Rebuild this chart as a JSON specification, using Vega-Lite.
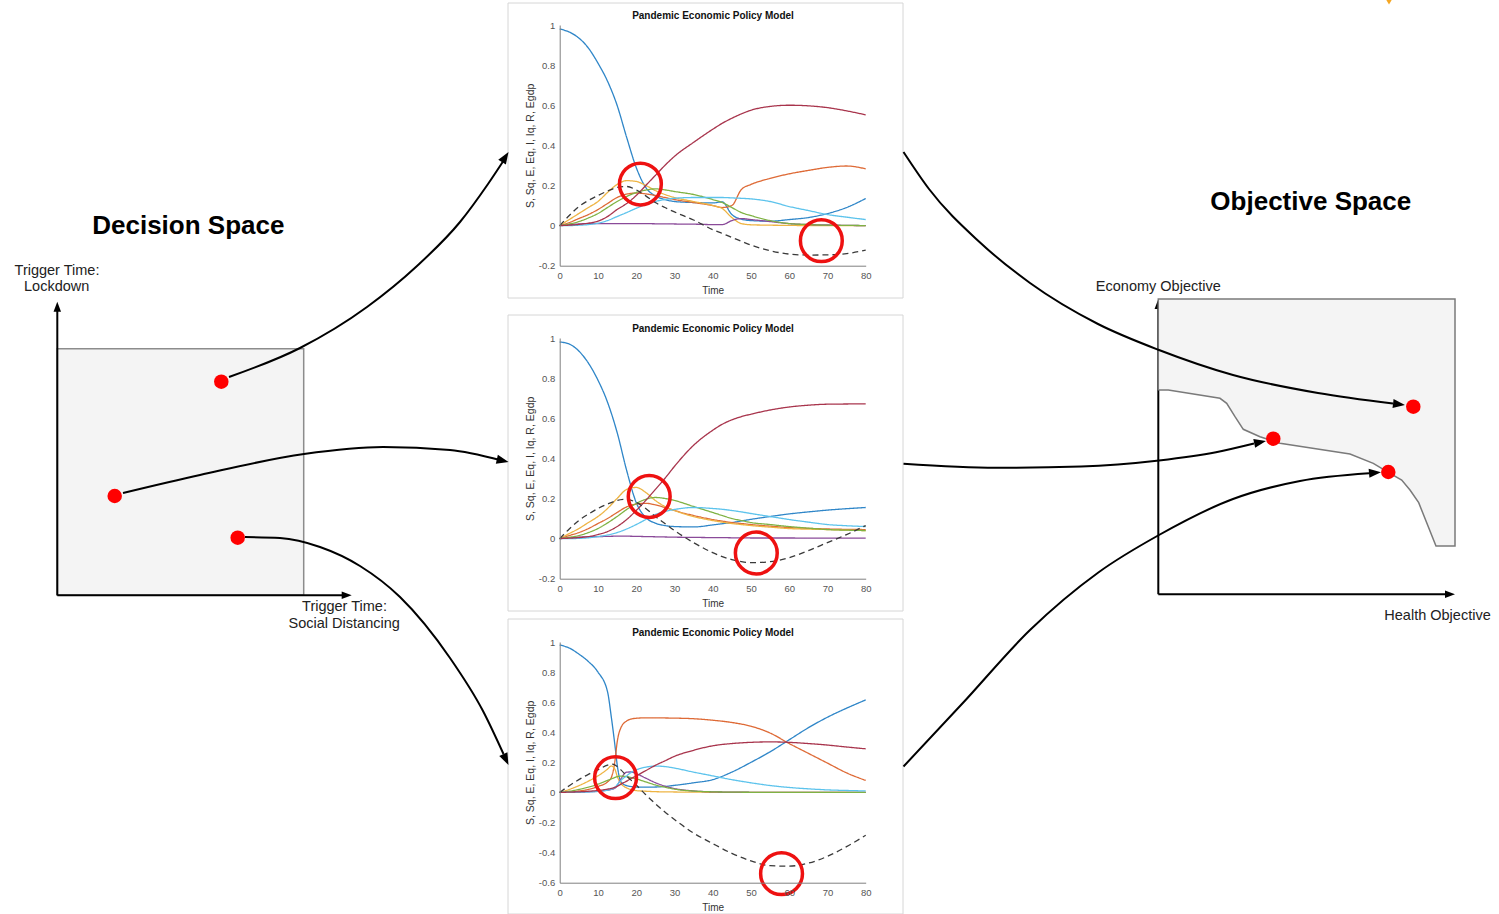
{
  "$schema": "https://vega.github.io/schema/vega-lite/v6.json",
  "width": 1499,
  "height": 914,
  "autosize": {"type": "none"},
  "padding": 0,
  "background": "white",
  "config": {"view": {"stroke": null}, "font": "Liberation Sans"},
  "datasets": {
    "c1": [
      {"t": 0, "S": 0.98, "Sq": 0, "E": 0, "Eq": 0, "I": 0, "Iq": 0, "R": 0, "Egdp": 0},
      {"t": 2.5, "S": 0.965, "Sq": 0.015, "E": 0.03, "Eq": 0.005, "I": 0.008, "Iq": 0, "R": 0.002, "Egdp": 0.05},
      {"t": 5, "S": 0.935, "Sq": 0.035, "E": 0.06, "Eq": 0.008, "I": 0.02, "Iq": 0.002, "R": 0.006, "Egdp": 0.095},
      {"t": 7.5, "S": 0.885, "Sq": 0.055, "E": 0.09, "Eq": 0.01, "I": 0.038, "Iq": 0.005, "R": 0.012, "Egdp": 0.125},
      {"t": 10, "S": 0.81, "Sq": 0.08, "E": 0.12, "Eq": 0.01, "I": 0.06, "Iq": 0.012, "R": 0.022, "Egdp": 0.15},
      {"t": 12.5, "S": 0.72, "Sq": 0.11, "E": 0.165, "Eq": 0.01, "I": 0.09, "Iq": 0.025, "R": 0.045, "Egdp": 0.172},
      {"t": 15, "S": 0.6, "Sq": 0.14, "E": 0.205, "Eq": 0.01, "I": 0.12, "Iq": 0.045, "R": 0.08, "Egdp": 0.19},
      {"t": 17.5, "S": 0.44, "Sq": 0.157, "E": 0.224, "Eq": 0.01, "I": 0.145, "Iq": 0.065, "R": 0.11, "Egdp": 0.195},
      {"t": 20, "S": 0.29, "Sq": 0.162, "E": 0.22, "Eq": 0.01, "I": 0.165, "Iq": 0.086, "R": 0.15, "Egdp": 0.178},
      {"t": 22.5, "S": 0.19, "Sq": 0.158, "E": 0.2, "Eq": 0.01, "I": 0.177, "Iq": 0.105, "R": 0.2, "Egdp": 0.148},
      {"t": 25, "S": 0.148, "Sq": 0.15, "E": 0.175, "Eq": 0.009, "I": 0.183, "Iq": 0.12, "R": 0.25, "Egdp": 0.115},
      {"t": 27.5, "S": 0.13, "Sq": 0.14, "E": 0.155, "Eq": 0.009, "I": 0.178, "Iq": 0.13, "R": 0.3, "Egdp": 0.09},
      {"t": 30, "S": 0.12, "Sq": 0.13, "E": 0.14, "Eq": 0.008, "I": 0.17, "Iq": 0.136, "R": 0.345, "Egdp": 0.068},
      {"t": 35, "S": 0.115, "Sq": 0.115, "E": 0.12, "Eq": 0.007, "I": 0.155, "Iq": 0.14, "R": 0.415, "Egdp": 0.028},
      {"t": 40, "S": 0.113, "Sq": 0.1, "E": 0.1, "Eq": 0.005, "I": 0.13, "Iq": 0.14, "R": 0.48, "Egdp": -0.02},
      {"t": 42.5, "S": 0.118, "Sq": 0.09, "E": 0.085, "Eq": 0.005, "I": 0.115, "Iq": 0.14, "R": 0.51, "Egdp": -0.039},
      {"t": 45, "S": 0.055, "Sq": 0.1, "E": 0.04, "Eq": 0.025, "I": 0.09, "Iq": 0.138, "R": 0.535, "Egdp": -0.059},
      {"t": 47.5, "S": 0.032, "Sq": 0.18, "E": 0.01, "Eq": 0.035, "I": 0.065, "Iq": 0.136, "R": 0.557, "Egdp": -0.078},
      {"t": 50, "S": 0.025, "Sq": 0.205, "E": 0.004, "Eq": 0.03, "I": 0.05, "Iq": 0.133, "R": 0.575, "Egdp": -0.097},
      {"t": 55, "S": 0.022, "Sq": 0.235, "E": 0.002, "Eq": 0.02, "I": 0.025, "Iq": 0.12, "R": 0.594, "Egdp": -0.125},
      {"t": 60, "S": 0.03, "Sq": 0.258, "E": 0.001, "Eq": 0.01, "I": 0.01, "Iq": 0.095, "R": 0.6, "Egdp": -0.142},
      {"t": 65, "S": 0.04, "Sq": 0.275, "E": 0, "Eq": 0.005, "I": 0.005, "Iq": 0.075, "R": 0.597, "Egdp": -0.147},
      {"t": 70, "S": 0.06, "Sq": 0.29, "E": 0, "Eq": 0.003, "I": 0.002, "Iq": 0.055, "R": 0.588, "Egdp": -0.146},
      {"t": 75, "S": 0.09, "Sq": 0.297, "E": 0, "Eq": 0.001, "I": 0.001, "Iq": 0.042, "R": 0.572, "Egdp": -0.14},
      {"t": 80, "S": 0.135, "Sq": 0.283, "E": 0, "Eq": 0, "I": 0, "Iq": 0.03, "R": 0.552, "Egdp": -0.122}
    ],
    "c2": [
      {"t": 0, "S": 0.98, "Sq": 0, "E": 0, "Eq": 0, "I": 0, "Iq": 0, "R": 0, "Egdp": 0},
      {"t": 2.5, "S": 0.97, "Sq": 0.015, "E": 0.025, "Eq": 0.004, "I": 0.006, "Iq": 0, "R": 0.002, "Egdp": 0.048},
      {"t": 5, "S": 0.935, "Sq": 0.03, "E": 0.05, "Eq": 0.007, "I": 0.015, "Iq": 0.001, "R": 0.005, "Egdp": 0.09},
      {"t": 7.5, "S": 0.875, "Sq": 0.05, "E": 0.08, "Eq": 0.009, "I": 0.03, "Iq": 0.004, "R": 0.01, "Egdp": 0.122},
      {"t": 10, "S": 0.79, "Sq": 0.075, "E": 0.11, "Eq": 0.01, "I": 0.05, "Iq": 0.01, "R": 0.02, "Egdp": 0.15},
      {"t": 12.5, "S": 0.68, "Sq": 0.1, "E": 0.15, "Eq": 0.011, "I": 0.078, "Iq": 0.018, "R": 0.035, "Egdp": 0.172},
      {"t": 15, "S": 0.53, "Sq": 0.13, "E": 0.2, "Eq": 0.012, "I": 0.11, "Iq": 0.03, "R": 0.06, "Egdp": 0.19},
      {"t": 17.5, "S": 0.34, "Sq": 0.158, "E": 0.245, "Eq": 0.012, "I": 0.145, "Iq": 0.048, "R": 0.095, "Egdp": 0.196},
      {"t": 20, "S": 0.18, "Sq": 0.172, "E": 0.255, "Eq": 0.011, "I": 0.175, "Iq": 0.07, "R": 0.14, "Egdp": 0.18},
      {"t": 22.5, "S": 0.105, "Sq": 0.176, "E": 0.23, "Eq": 0.01, "I": 0.196, "Iq": 0.095, "R": 0.19, "Egdp": 0.15},
      {"t": 25, "S": 0.077, "Sq": 0.168, "E": 0.19, "Eq": 0.009, "I": 0.205, "Iq": 0.12, "R": 0.245, "Egdp": 0.11},
      {"t": 27.5, "S": 0.065, "Sq": 0.155, "E": 0.16, "Eq": 0.008, "I": 0.2, "Iq": 0.135, "R": 0.3, "Egdp": 0.075},
      {"t": 30, "S": 0.06, "Sq": 0.14, "E": 0.14, "Eq": 0.007, "I": 0.19, "Iq": 0.145, "R": 0.36, "Egdp": 0.04},
      {"t": 35, "S": 0.058, "Sq": 0.115, "E": 0.11, "Eq": 0.006, "I": 0.16, "Iq": 0.155, "R": 0.465, "Egdp": -0.02},
      {"t": 40, "S": 0.068, "Sq": 0.095, "E": 0.09, "Eq": 0.005, "I": 0.13, "Iq": 0.15, "R": 0.54, "Egdp": -0.07},
      {"t": 42.5, "S": 0.074, "Sq": 0.087, "E": 0.082, "Eq": 0.005, "I": 0.115, "Iq": 0.146, "R": 0.57, "Egdp": -0.09},
      {"t": 45, "S": 0.08, "Sq": 0.08, "E": 0.075, "Eq": 0.004, "I": 0.1, "Iq": 0.14, "R": 0.592, "Egdp": -0.105},
      {"t": 47.5, "S": 0.088, "Sq": 0.075, "E": 0.07, "Eq": 0.004, "I": 0.09, "Iq": 0.133, "R": 0.608, "Egdp": -0.115},
      {"t": 50, "S": 0.096, "Sq": 0.07, "E": 0.065, "Eq": 0.003, "I": 0.08, "Iq": 0.125, "R": 0.62, "Egdp": -0.12},
      {"t": 55, "S": 0.11, "Sq": 0.062, "E": 0.057, "Eq": 0.003, "I": 0.07, "Iq": 0.11, "R": 0.641, "Egdp": -0.115},
      {"t": 60, "S": 0.123, "Sq": 0.055, "E": 0.05, "Eq": 0.003, "I": 0.06, "Iq": 0.095, "R": 0.656, "Egdp": -0.095},
      {"t": 65, "S": 0.133, "Sq": 0.051, "E": 0.047, "Eq": 0.002, "I": 0.052, "Iq": 0.082, "R": 0.665, "Egdp": -0.06},
      {"t": 70, "S": 0.142, "Sq": 0.048, "E": 0.045, "Eq": 0.002, "I": 0.045, "Iq": 0.07, "R": 0.67, "Egdp": -0.02},
      {"t": 75, "S": 0.149, "Sq": 0.046, "E": 0.042, "Eq": 0.002, "I": 0.042, "Iq": 0.064, "R": 0.671, "Egdp": 0.02},
      {"t": 80, "S": 0.155, "Sq": 0.045, "E": 0.04, "Eq": 0.002, "I": 0.04, "Iq": 0.06, "R": 0.672, "Egdp": 0.065}
    ],
    "c3": [
      {"t": 0, "S": 0.98, "Sq": 0, "E": 0, "Eq": 0, "I": 0, "Iq": 0, "R": 0, "Egdp": 0},
      {"t": 2.5, "S": 0.96, "Sq": 0.004, "E": 0.02, "Eq": 0.001, "I": 0.008, "Iq": 0, "R": 0.002, "Egdp": 0.045},
      {"t": 5, "S": 0.92, "Sq": 0.01, "E": 0.045, "Eq": 0.002, "I": 0.02, "Iq": 0.001, "R": 0.004, "Egdp": 0.085},
      {"t": 7.5, "S": 0.87, "Sq": 0.02, "E": 0.075, "Eq": 0.004, "I": 0.035, "Iq": 0.003, "R": 0.008, "Egdp": 0.12},
      {"t": 10, "S": 0.8, "Sq": 0.04, "E": 0.11, "Eq": 0.008, "I": 0.055, "Iq": 0.007, "R": 0.013, "Egdp": 0.15},
      {"t": 12.5, "S": 0.67, "Sq": 0.07, "E": 0.155, "Eq": 0.015, "I": 0.08, "Iq": 0.015, "R": 0.022, "Egdp": 0.182},
      {"t": 13.5, "S": 0.5, "Sq": 0.1, "E": 0.176, "Eq": 0.02, "I": 0.09, "Iq": 0.022, "R": 0.027, "Egdp": 0.188},
      {"t": 14.5, "S": 0.3, "Sq": 0.22, "E": 0.15, "Eq": 0.03, "I": 0.1, "Iq": 0.035, "R": 0.035, "Egdp": 0.182},
      {"t": 15, "S": 0.19, "Sq": 0.33, "E": 0.11, "Eq": 0.045, "I": 0.105, "Iq": 0.05, "R": 0.04, "Egdp": 0.172},
      {"t": 16, "S": 0.07, "Sq": 0.43, "E": 0.06, "Eq": 0.09, "I": 0.108, "Iq": 0.08, "R": 0.055, "Egdp": 0.15},
      {"t": 17.5, "S": 0.045, "Sq": 0.475, "E": 0.03, "Eq": 0.135, "I": 0.105, "Iq": 0.11, "R": 0.075, "Egdp": 0.11},
      {"t": 18.5, "S": 0.04, "Sq": 0.487, "E": 0.02, "Eq": 0.136, "I": 0.1, "Iq": 0.13, "R": 0.09, "Egdp": 0.085},
      {"t": 20, "S": 0.036, "Sq": 0.493, "E": 0.012, "Eq": 0.125, "I": 0.09, "Iq": 0.15, "R": 0.11, "Egdp": 0.05},
      {"t": 22.5, "S": 0.035, "Sq": 0.496, "E": 0.008, "Eq": 0.095, "I": 0.07, "Iq": 0.168, "R": 0.145, "Egdp": -0.015},
      {"t": 25, "S": 0.036, "Sq": 0.496, "E": 0.005, "Eq": 0.065, "I": 0.05, "Iq": 0.175, "R": 0.18, "Egdp": -0.075},
      {"t": 27.5, "S": 0.04, "Sq": 0.495, "E": 0.004, "Eq": 0.042, "I": 0.035, "Iq": 0.172, "R": 0.21, "Egdp": -0.13},
      {"t": 30, "S": 0.047, "Sq": 0.494, "E": 0.003, "Eq": 0.026, "I": 0.022, "Iq": 0.162, "R": 0.24, "Egdp": -0.18},
      {"t": 35, "S": 0.064, "Sq": 0.49, "E": 0.002, "Eq": 0.01, "I": 0.009, "Iq": 0.135, "R": 0.28, "Egdp": -0.27},
      {"t": 40, "S": 0.085, "Sq": 0.48, "E": 0.001, "Eq": 0.004, "I": 0.004, "Iq": 0.11, "R": 0.31, "Egdp": -0.34},
      {"t": 45, "S": 0.135, "Sq": 0.465, "E": 0, "Eq": 0.002, "I": 0.002, "Iq": 0.085, "R": 0.325, "Egdp": -0.405},
      {"t": 50, "S": 0.2, "Sq": 0.44, "E": 0, "Eq": 0.001, "I": 0.001, "Iq": 0.064, "R": 0.333, "Egdp": -0.455},
      {"t": 55, "S": 0.27, "Sq": 0.395, "E": 0, "Eq": 0, "I": 0, "Iq": 0.046, "R": 0.336, "Egdp": -0.487},
      {"t": 60, "S": 0.35, "Sq": 0.325, "E": 0, "Eq": 0, "I": 0, "Iq": 0.033, "R": 0.333, "Egdp": -0.49},
      {"t": 65, "S": 0.43, "Sq": 0.26, "E": 0, "Eq": 0, "I": 0, "Iq": 0.024, "R": 0.325, "Egdp": -0.47},
      {"t": 70, "S": 0.5, "Sq": 0.195, "E": 0, "Eq": 0, "I": 0, "Iq": 0.017, "R": 0.315, "Egdp": -0.425},
      {"t": 75, "S": 0.56, "Sq": 0.13, "E": 0, "Eq": 0, "I": 0, "Iq": 0.013, "R": 0.302, "Egdp": -0.36},
      {"t": 80, "S": 0.615, "Sq": 0.08, "E": 0, "Eq": 0, "I": 0, "Iq": 0.01, "R": 0.29, "Egdp": -0.285}
    ],
    "circles": [
      {"chart": 1, "t": 21.1, "v": 0.207},
      {"chart": 1, "t": 68.4, "v": -0.075},
      {"chart": 2, "t": 23.4, "v": 0.21},
      {"chart": 2, "t": 51.4, "v": -0.072},
      {"chart": 3, "t": 14.6, "v": 0.098},
      {"chart": 3, "t": 58, "v": -0.54}
    ]
  },
  "layer": [
    {
      "encoding": {
        "x": {"field": "x", "type": "quantitative", "scale": {"domain": [0, 1499], "range": [0, 1499], "nice": false, "zero": false}, "axis": null},
        "y": {"field": "y", "type": "quantitative", "scale": {"domain": [0, 914], "range": [0, 914], "nice": false, "zero": false}, "axis": null}
      },
      "layer": [
        {
          "data": {"values": [
            {"x": 508, "y": 3, "x2": 903, "y2": 298},
            {"x": 508, "y": 315, "x2": 903, "y2": 611},
            {"x": 508, "y": 619, "x2": 903, "y2": 914}
          ]},
          "mark": {"type": "rect", "fill": "white", "stroke": "#d6d6d6", "strokeWidth": 1},
          "encoding": {"x2": {"field": "x2"}, "y2": {"field": "y2"}}
        },
        {
          "data": {"values": [{"x": 57.3, "y": 348.7, "x2": 303.7, "y2": 595.3}]},
          "mark": {"type": "rect", "fill": "#f4f4f4", "stroke": "#8c8c8c", "strokeWidth": 1.5},
          "encoding": {"x2": {"field": "x2"}, "y2": {"field": "y2"}}
        },
        {
          "data": {"values": [
            {"x": 57.3, "y": 595.3, "x2": 57.3, "y2": 308},
            {"x": 57.3, "y": 595.3, "x2": 345, "y2": 595.3},
            {"x": 1158.3, "y": 594.3, "x2": 1158.3, "y2": 305},
            {"x": 1158.3, "y": 594.3, "x2": 1448, "y2": 594.3}
          ]},
          "mark": {"type": "rule", "color": "black", "strokeWidth": 2},
          "encoding": {"x2": {"field": "x2"}, "y2": {"field": "y2"}}
        },
        {
          "data": {"values": [
            {"x": 57.3, "y": 306.7, "angle": -90},
            {"x": 346.7, "y": 595.3, "angle": 0},
            {"x": 1158.3, "y": 304, "angle": -90},
            {"x": 1450, "y": 594.3, "angle": 0}
          ]},
          "mark": {"type": "point", "shape": "M-1,-0.75L1,0L-1,0.75Z", "filled": true, "color": "black", "opacity": 1, "size": 100},
          "encoding": {"angle": {"field": "angle", "type": "quantitative", "scale": null}}
        },
        {
          "data": {"values": [
            {"x": 1158.3, "y": 299, "y2": 390},
            {"x": 1168.3, "y": 299, "y2": 390},
            {"x": 1220, "y": 299, "y2": 398.3},
            {"x": 1226.7, "y": 299, "y2": 403.3},
            {"x": 1235, "y": 299, "y2": 416.7},
            {"x": 1243.3, "y": 299, "y2": 429.3},
            {"x": 1260, "y": 299, "y2": 436.7},
            {"x": 1280, "y": 299, "y2": 443.3},
            {"x": 1350, "y": 299, "y2": 454},
            {"x": 1373.3, "y": 299, "y2": 463.3},
            {"x": 1388.3, "y": 299, "y2": 472.3},
            {"x": 1401.7, "y": 299, "y2": 480},
            {"x": 1410, "y": 299, "y2": 490},
            {"x": 1418.7, "y": 299, "y2": 502.7},
            {"x": 1436, "y": 299, "y2": 546},
            {"x": 1455, "y": 299, "y2": 546}
          ]},
          "mark": {"type": "area", "color": "#f4f4f4", "opacity": 1},
          "encoding": {"y2": {"field": "y2"}}
        },
        {
          "data": {"values": [
            {"i": 0, "x": 1158.3, "y": 390},
            {"i": 1, "x": 1158.3, "y": 299},
            {"i": 2, "x": 1455, "y": 299},
            {"i": 3, "x": 1455, "y": 546},
            {"i": 4, "x": 1436, "y": 546},
            {"i": 5, "x": 1418.7, "y": 502.7},
            {"i": 6, "x": 1410, "y": 490},
            {"i": 7, "x": 1401.7, "y": 480},
            {"i": 8, "x": 1388.3, "y": 472.3},
            {"i": 9, "x": 1373.3, "y": 463.3},
            {"i": 10, "x": 1350, "y": 454},
            {"i": 11, "x": 1280, "y": 443.3},
            {"i": 12, "x": 1260, "y": 436.7},
            {"i": 13, "x": 1243.3, "y": 429.3},
            {"i": 14, "x": 1235, "y": 416.7},
            {"i": 15, "x": 1226.7, "y": 403.3},
            {"i": 16, "x": 1220, "y": 398.3},
            {"i": 17, "x": 1168.3, "y": 390},
            {"i": 18, "x": 1158.3, "y": 390}
          ]},
          "mark": {"type": "line", "color": "#7a7a7a", "strokeWidth": 1.5},
          "encoding": {"order": {"field": "i", "type": "quantitative"}}
        },
        {
          "data": {"values": [
            {"id": "a1", "x": 229, "y": 377}, {"id": "a1", "x": 300, "y": 348}, {"id": "a1", "x": 367, "y": 307}, {"id": "a1", "x": 417, "y": 266}, {"id": "a1", "x": 460, "y": 222}, {"id": "a1", "x": 488, "y": 184}, {"id": "a1", "x": 504, "y": 160},
            {"id": "a2", "x": 123, "y": 493}, {"id": "a2", "x": 200, "y": 475}, {"id": "a2", "x": 304, "y": 454}, {"id": "a2", "x": 383, "y": 447}, {"id": "a2", "x": 450, "y": 450}, {"id": "a2", "x": 500, "y": 460},
            {"id": "a3", "x": 245, "y": 537}, {"id": "a3", "x": 280, "y": 538}, {"id": "a3", "x": 320, "y": 547}, {"id": "a3", "x": 360, "y": 566}, {"id": "a3", "x": 400, "y": 597}, {"id": "a3", "x": 450, "y": 658}, {"id": "a3", "x": 483, "y": 711}, {"id": "a3", "x": 503.5, "y": 754},
            {"id": "a4", "x": 903.5, "y": 152}, {"id": "a4", "x": 929, "y": 189}, {"id": "a4", "x": 979.5, "y": 242}, {"id": "a4", "x": 1030, "y": 283}, {"id": "a4", "x": 1098, "y": 324}, {"id": "a4", "x": 1159, "y": 350}, {"id": "a4", "x": 1233, "y": 375}, {"id": "a4", "x": 1318, "y": 393}, {"id": "a4", "x": 1393, "y": 403.5},
            {"id": "a5", "x": 903.5, "y": 463.7}, {"id": "a5", "x": 996, "y": 467.8}, {"id": "a5", "x": 1081, "y": 466.5}, {"id": "a5", "x": 1159, "y": 460.4}, {"id": "a5", "x": 1216, "y": 452.2}, {"id": "a5", "x": 1254, "y": 443.5},
            {"id": "a6", "x": 903.5, "y": 766.5}, {"id": "a6", "x": 962.6, "y": 703.3}, {"id": "a6", "x": 1030, "y": 630}, {"id": "a6", "x": 1098, "y": 572.7}, {"id": "a6", "x": 1159, "y": 535}, {"id": "a6", "x": 1233, "y": 499}, {"id": "a6", "x": 1300, "y": 481}, {"id": "a6", "x": 1369, "y": 473.3}
          ]},
          "mark": {"type": "line", "color": "black", "strokeWidth": 2, "interpolate": "monotone"},
          "encoding": {"detail": {"field": "id", "type": "nominal"}}
        },
        {
          "data": {"values": [
            {"x": 505.3, "y": 157.1, "angle": -57.5},
            {"x": 502.7, "y": 460.6, "angle": 13},
            {"x": 505.9, "y": 759.6, "angle": 64.7},
            {"x": 1399, "y": 404.3, "angle": 7},
            {"x": 1260.1, "y": 442.2, "angle": -12},
            {"x": 1375, "y": 472.8, "angle": -5}
          ]},
          "mark": {"type": "point", "shape": "M-1,-0.75L1,0L-1,0.75Z", "filled": true, "color": "black", "opacity": 1, "size": 144},
          "encoding": {"angle": {"field": "angle", "type": "quantitative", "scale": null}}
        },
        {
          "data": {"values": [
            {"x": 221.3, "y": 381.7}, {"x": 114.7, "y": 496}, {"x": 237.7, "y": 537.7},
            {"x": 1413.3, "y": 406.7}, {"x": 1273.3, "y": 438.7}, {"x": 1388.3, "y": 472}
          ]},
          "mark": {"type": "circle", "color": "#ff0000", "opacity": 1, "size": 210}
        },
        {
          "data": {"values": [{"x": 1389, "y": 1}]},
          "mark": {"type": "point", "shape": "triangle-down", "filled": true, "color": "#f5a623", "opacity": 1, "size": 70}
        },
        {
          "data": {"values": [
            {"x": 188.3, "y": 226, "label": "Decision Space"},
            {"x": 1310.8, "y": 201.7, "label": "Objective Space"}
          ]},
          "mark": {"type": "text", "font": "Liberation Sans", "fontSize": 26, "fontWeight": "bold", "color": "black", "align": "center", "baseline": "middle"},
          "encoding": {"text": {"field": "label"}}
        },
        {
          "data": {"values": [
            {"x": 57, "y": 270.7, "label": "Trigger Time:"},
            {"x": 56.7, "y": 287.3, "label": "Lockdown"},
            {"x": 344.5, "y": 607.3, "label": "Trigger Time:"},
            {"x": 344.2, "y": 624.3, "label": "Social Distancing"},
            {"x": 1158.3, "y": 287.3, "label": "Economy Objective"},
            {"x": 1437.5, "y": 615.7, "label": "Health Objective"}
          ]},
          "mark": {"type": "text", "font": "Liberation Sans", "fontSize": 14.5, "color": "#222222", "align": "center", "baseline": "middle"},
          "encoding": {"text": {"field": "label"}}
        },
        {
          "data": {"values": [
            {"x": 713, "y": 16, "label": "Pandemic Economic Policy Model"},
            {"x": 713, "y": 329, "label": "Pandemic Economic Policy Model"},
            {"x": 713, "y": 633, "label": "Pandemic Economic Policy Model"}
          ]},
          "mark": {"type": "text", "font": "Liberation Sans", "fontSize": 10, "fontWeight": "bold", "color": "#111111", "align": "center", "baseline": "middle"},
          "encoding": {"text": {"field": "label"}}
        }
      ]
    },
    {
      "data": {"name": "c1"},
      "transform": [{"fold": ["S", "Sq", "E", "Eq", "I", "Iq", "R", "Egdp"], "as": ["series", "v"]}],
      "encoding": {
        "x": {"field": "t", "type": "quantitative", "scale": {"domain": [0, 80], "range": [559.7, 865.7], "nice": false, "zero": false},
          "axis": {"zindex": 1, "orient": "bottom", "offset": -648.3, "values": [0, 10, 20, 30, 40, 50, 60, 70, 80], "title": "Time", "titleFont": "Liberation Sans", "titleFontSize": 10, "titleFontWeight": "normal", "titleColor": "#333333", "titlePadding": 5, "labelFont": "Liberation Sans", "labelFontSize": 9.5, "labelColor": "#555555", "labelPadding": 5, "labelFlush": false, "labelOverlap": false, "ticks": false, "grid": false, "domainColor": "#808080", "domainWidth": 1}},
        "y": {"field": "v", "type": "quantitative", "scale": {"domain": [-0.2, 1], "range": [265.7, 25], "nice": false, "zero": false},
          "axis": {"zindex": 1, "orient": "left", "offset": -559.7, "values": [-0.2, 0, 0.2, 0.4, 0.6, 0.8, 1], "format": "~g", "labelExpr": "replace(datum.label, '−', '-')", "title": "S, Sq, E, Eq, I, Iq, R, Egdp", "titleFont": "Liberation Sans", "titleFontSize": 10.5, "titleFontWeight": "normal", "titleColor": "#333333", "titlePadding": 3, "labelFont": "Liberation Sans", "labelFontSize": 9.5, "labelColor": "#555555", "labelPadding": 5, "labelFlush": false, "labelOverlap": false, "ticks": false, "grid": false, "domainColor": "#808080", "domainWidth": 1}}
      },
      "layer": [
        {
          "mark": {"type": "line", "strokeWidth": 1.3, "interpolate": "monotone"},
          "encoding": {
            "color": {"field": "series", "type": "nominal", "scale": {"domain": ["S", "Sq", "E", "Eq", "I", "Iq", "R", "Egdp"], "range": ["#2f86c8", "#de6a36", "#eeb443", "#8a4a99", "#7fb243", "#5cc3ec", "#a8344c", "#3a3a3a"]}, "legend": null},
            "strokeDash": {"field": "series", "type": "nominal", "scale": {"domain": ["S", "Sq", "E", "Eq", "I", "Iq", "R", "Egdp"], "range": [[1, 0], [1, 0], [1, 0], [1, 0], [1, 0], [1, 0], [1, 0], [6, 4]]}, "legend": null}
          }
        },
        {
          "data": {"name": "circles"},
          "transform": [{"filter": "datum.chart == 1"}],
          "mark": {"type": "point", "shape": "circle", "filled": false, "stroke": "#ee1111", "strokeWidth": 3.5, "size": 1750, "opacity": 1}
        }
      ]
    },
    {
      "data": {"name": "c2"},
      "transform": [{"fold": ["S", "Sq", "E", "Eq", "I", "Iq", "R", "Egdp"], "as": ["series", "v"]}],
      "encoding": {
        "x": {"field": "t", "type": "quantitative", "scale": {"domain": [0, 80], "range": [559.7, 865.7], "nice": false, "zero": false},
          "axis": {"zindex": 1, "orient": "bottom", "offset": -335.3, "values": [0, 10, 20, 30, 40, 50, 60, 70, 80], "title": "Time", "titleFont": "Liberation Sans", "titleFontSize": 10, "titleFontWeight": "normal", "titleColor": "#333333", "titlePadding": 5, "labelFont": "Liberation Sans", "labelFontSize": 9.5, "labelColor": "#555555", "labelPadding": 5, "labelFlush": false, "labelOverlap": false, "ticks": false, "grid": false, "domainColor": "#808080", "domainWidth": 1}},
        "y": {"field": "v", "type": "quantitative", "scale": {"domain": [-0.2, 1], "range": [578.7, 338], "nice": false, "zero": false},
          "axis": {"zindex": 1, "orient": "left", "offset": -559.7, "values": [-0.2, 0, 0.2, 0.4, 0.6, 0.8, 1], "format": "~g", "labelExpr": "replace(datum.label, '−', '-')", "title": "S, Sq, E, Eq, I, Iq, R, Egdp", "titleFont": "Liberation Sans", "titleFontSize": 10.5, "titleFontWeight": "normal", "titleColor": "#333333", "titlePadding": 3, "labelFont": "Liberation Sans", "labelFontSize": 9.5, "labelColor": "#555555", "labelPadding": 5, "labelFlush": false, "labelOverlap": false, "ticks": false, "grid": false, "domainColor": "#808080", "domainWidth": 1}}
      },
      "layer": [
        {
          "mark": {"type": "line", "strokeWidth": 1.3, "interpolate": "monotone"},
          "encoding": {
            "color": {"field": "series", "type": "nominal", "scale": {"domain": ["S", "Sq", "E", "Eq", "I", "Iq", "R", "Egdp"], "range": ["#2f86c8", "#de6a36", "#eeb443", "#8a4a99", "#7fb243", "#5cc3ec", "#a8344c", "#3a3a3a"]}, "legend": null},
            "strokeDash": {"field": "series", "type": "nominal", "scale": {"domain": ["S", "Sq", "E", "Eq", "I", "Iq", "R", "Egdp"], "range": [[1, 0], [1, 0], [1, 0], [1, 0], [1, 0], [1, 0], [1, 0], [6, 4]]}, "legend": null}
          }
        },
        {
          "data": {"name": "circles"},
          "transform": [{"filter": "datum.chart == 2"}],
          "mark": {"type": "point", "shape": "circle", "filled": false, "stroke": "#ee1111", "strokeWidth": 3.5, "size": 1750, "opacity": 1}
        }
      ]
    },
    {
      "data": {"name": "c3"},
      "transform": [{"fold": ["S", "Sq", "E", "Eq", "I", "Iq", "R", "Egdp"], "as": ["series", "v"]}],
      "encoding": {
        "x": {"field": "t", "type": "quantitative", "scale": {"domain": [0, 80], "range": [559.7, 865.7], "nice": false, "zero": false},
          "axis": {"zindex": 1, "orient": "bottom", "offset": -31.3, "values": [0, 10, 20, 30, 40, 50, 60, 70, 80], "title": "Time", "titleFont": "Liberation Sans", "titleFontSize": 10, "titleFontWeight": "normal", "titleColor": "#333333", "titlePadding": 5, "labelFont": "Liberation Sans", "labelFontSize": 9.5, "labelColor": "#555555", "labelPadding": 5, "labelFlush": false, "labelOverlap": false, "ticks": false, "grid": false, "domainColor": "#808080", "domainWidth": 1}},
        "y": {"field": "v", "type": "quantitative", "scale": {"domain": [-0.6, 1], "range": [882.7, 642], "nice": false, "zero": false},
          "axis": {"zindex": 1, "orient": "left", "offset": -559.7, "values": [-0.6, -0.4, -0.2, 0, 0.2, 0.4, 0.6, 0.8, 1], "format": "~g", "labelExpr": "replace(datum.label, '−', '-')", "title": "S, Sq, E, Eq, I, Iq, R, Egdp", "titleFont": "Liberation Sans", "titleFontSize": 10.5, "titleFontWeight": "normal", "titleColor": "#333333", "titlePadding": 3, "labelFont": "Liberation Sans", "labelFontSize": 9.5, "labelColor": "#555555", "labelPadding": 5, "labelFlush": false, "labelOverlap": false, "ticks": false, "grid": false, "domainColor": "#808080", "domainWidth": 1}}
      },
      "layer": [
        {
          "mark": {"type": "line", "strokeWidth": 1.3, "interpolate": "monotone"},
          "encoding": {
            "color": {"field": "series", "type": "nominal", "scale": {"domain": ["S", "Sq", "E", "Eq", "I", "Iq", "R", "Egdp"], "range": ["#2f86c8", "#de6a36", "#eeb443", "#8a4a99", "#7fb243", "#5cc3ec", "#a8344c", "#3a3a3a"]}, "legend": null},
            "strokeDash": {"field": "series", "type": "nominal", "scale": {"domain": ["S", "Sq", "E", "Eq", "I", "Iq", "R", "Egdp"], "range": [[1, 0], [1, 0], [1, 0], [1, 0], [1, 0], [1, 0], [1, 0], [6, 4]]}, "legend": null}
          }
        },
        {
          "data": {"name": "circles"},
          "transform": [{"filter": "datum.chart == 3"}],
          "mark": {"type": "point", "shape": "circle", "filled": false, "stroke": "#ee1111", "strokeWidth": 3.5, "size": 1750, "opacity": 1}
        }
      ]
    }
  ],
  "resolve": {"scale": {"x": "independent", "y": "independent"}, "axis": {"x": "independent", "y": "independent"}}
}
